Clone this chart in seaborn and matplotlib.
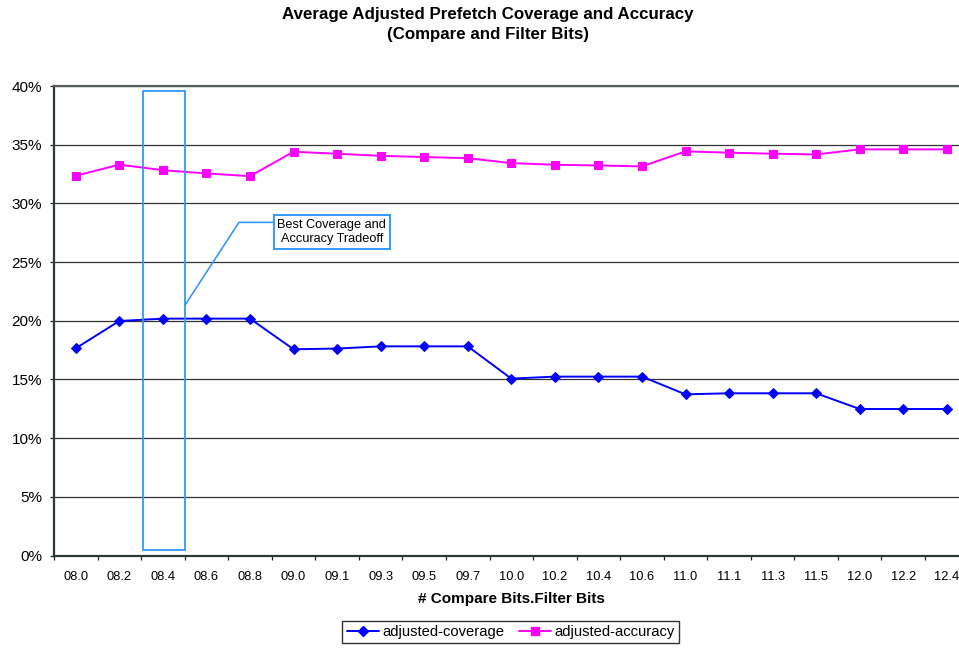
import numpy as np
import pandas as pd
import matplotlib
matplotlib.use("Agg")
import matplotlib.pyplot as plt
from matplotlib.patches import Rectangle
from matplotlib.lines import Line2D
from matplotlib.ticker import FuncFormatter
import seaborn as sns

# Compare bits . filter bits configurations
configs = ["08.0", "08.2", "08.4", "08.6", "08.8", "09.0", "09.1", "09.3", "09.5", "09.7",
           "10.0", "10.2", "10.4", "10.6", "11.0", "11.1", "11.3", "11.5", "12.0", "12.2", "12.4"]

# Percent values per configuration
adjusted_coverage = [17.65, 19.98, 20.18, 20.18, 20.18, 17.57, 17.63, 17.82, 17.82, 17.82,
                     15.07, 15.24, 15.24, 15.24, 13.73, 13.82, 13.82, 13.82, 12.48, 12.48, 12.48]
adjusted_accuracy = [32.35, 33.30, 32.83, 32.55, 32.32, 34.40, 34.23, 34.05, 33.95, 33.85,
                     33.43, 33.29, 33.23, 33.15, 34.43, 34.32, 34.23, 34.17, 34.60, 34.60, 34.60]

series_names = ["adjusted-coverage", "adjusted-accuracy"]
y_ticks = list(range(0, 41, 5))

sns.set_style("white")
plt.rcParams["font.family"] = ["Liberation Sans", "DejaVu Sans"]
plt.rcParams.update({"text.color": "black", "axes.labelcolor": "black",
                     "xtick.color": "black", "ytick.color": "black"})

fig = plt.figure(figsize=(9.59, 6.5), dpi=100)
ax = fig.add_axes([54 / 959, 94.5 / 650, 914.6 / 959, 469.5 / 650])

BLUE = "#0000ff"
MAGENTA = "#ff00ff"
HILITE = "#3399ff"

df = pd.DataFrame({"config": configs,
                   series_names[0]: adjusted_coverage,
                   series_names[1]: adjusted_accuracy})

sns.lineplot(data=df, x="config", y=series_names[0], ax=ax, color=BLUE, lw=1.4,
             marker="D", markersize=5.2, markeredgecolor=BLUE, sort=False, zorder=5)
sns.lineplot(data=df, x="config", y=series_names[1], ax=ax, color=MAGENTA, lw=1.4,
             marker="s", markersize=6.2, markeredgecolor=MAGENTA, sort=False, zorder=5)

ax.set_xlim(-0.5, len(configs) - 0.5)
ax.set_ylim(0, 40)
ax.set_yticks(y_ticks)
ax.yaxis.set_major_formatter(FuncFormatter(lambda v, _: f"{v:.0f}%"))
ax.set_xticks(np.arange(-0.5, len(configs), 1.0), minor=True)

ax.yaxis.grid(True, color="#333333", lw=0.9)
ax.xaxis.grid(False)
ax.set_axisbelow(True)

ax.tick_params(axis="x", which="major", length=0, pad=11, labelsize=9.3, labelcolor="black")
ax.tick_params(axis="x", which="minor", direction="out", length=3.2, width=0.9, color="#222222",
               bottom=True)
ax.tick_params(axis="y", which="major", direction="out", length=3.2, width=0.9, pad=5.5,
               labelsize=11, left=True, color="#222222", labelcolor="black")

for side in ["left", "bottom"]:
    ax.spines[side].set_color("#2c3838")
    ax.spines[side].set_linewidth(1.6)
ax.spines["top"].set_color("#5a6060")
ax.spines["top"].set_linewidth(1.6)
ax.spines["right"].set_visible(False)

ax.set_xlabel("# Compare Bits.Filter Bits", fontsize=11, fontweight="bold", labelpad=7,
              color="black")
ax.set_ylabel("")

fig.text(488 / 959, 1 - 15 / 650, "Average Adjusted Prefetch Coverage and Accuracy",
         ha="center", va="center", fontsize=12.2, fontweight="bold", color="black")
fig.text(488 / 959, 1 - 35 / 650, "(Compare and Filter Bits)",
         ha="center", va="center", fontsize=12.2, fontweight="bold", color="black")

# Highlight of the best tradeoff configuration
ax.add_patch(Rectangle((1.536, 0.51), 2.507 - 1.536, 39.6 - 0.51, fill=False,
                       ec=HILITE, lw=1.3, zorder=6))
ax.plot([2.507, 3.747, 4.52], [21.32, 28.38, 28.38], color=HILITE, lw=1.2, zorder=6)
ax.text(5.88, 27.56, "Best Coverage and\nAccuracy Tradeoff", ha="center", va="center",
        fontsize=9.2, linespacing=1.25, zorder=7, color="black",
        bbox=dict(boxstyle="square,pad=0.28", fc="white", ec=HILITE, lw=1.4))

handles = [Line2D([], [], color=BLUE, lw=1.4, marker="D", markersize=5.2),
           Line2D([], [], color=MAGENTA, lw=1.4, marker="s", markersize=6.2)]
leg = fig.legend(handles, series_names, loc="center", bbox_to_anchor=(510.5 / 959, 1 - 632 / 650),
                 ncol=2, fontsize=10.6, frameon=True, fancybox=False, edgecolor="black",
                 handlelength=2.2, handletextpad=0.2, columnspacing=1.0, borderpad=0.3,
                 borderaxespad=0, labelcolor="black")
leg.get_frame().set_linewidth(1.0)

fig.savefig("out.png", dpi=100)
